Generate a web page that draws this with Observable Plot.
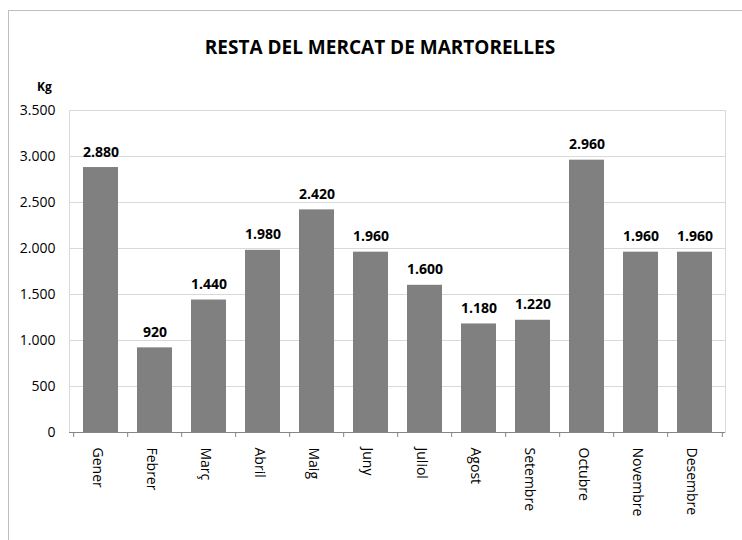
<!DOCTYPE html>
<html>
<head>
<meta charset="utf-8">
<script src="https://cdn.jsdelivr.net/npm/d3@7"></script>
<script src="https://cdn.jsdelivr.net/npm/@observablehq/plot@0.6"></script>
<style>
  html, body { margin: 0; padding: 0; background: #fff; }
  #wrap { position: relative; width: 742px; height: 540px; overflow: hidden; font-family: "Open Sans", sans-serif; }
  #border { position: absolute; left: 8px; top: 10px; width: 800px; height: 600px; border-left: 1px solid #bfbfbf; border-top: 1px solid #bfbfbf; }
  #title { position: absolute; left: 0; width: 760px; top: 34px; text-align: center; font-weight: bold; font-size: 19px; color: #000; }
  #unit { position: absolute; left: 37px; top: 78px; font-weight: bold; font-size: 12px; color: #000; }
  #chart { position: absolute; left: 0; top: 0; }
</style>
</head>
<body>
<div id="wrap">
  <div id="border"></div>
  <div id="chart"></div>
  <div id="title">RESTA DEL MERCAT DE MARTORELLES</div>
  <div id="unit">Kg</div>
</div>
<script>
const months = ["Gener","Febrer","Març","Abril","Maig","Juny","Juliol","Agost","Setembre","Octubre","Novembre","Desembre"];
const values = [2880, 920, 1440, 1980, 2420, 1960, 1600, 1180, 1220, 2960, 1960, 1960];
const yTicks = [0, 500, 1000, 1500, 2000, 2500, 3000, 3500];

const data = months.map((m, i) => ({month: m, value: values[i]}));
const fmt = d3.formatLocale({decimal: ",", thousands: ".", grouping: [3]}).format(",d");

const W = 742, H = 540;
const mL = 69, mR = 17, mT = 110, mB = 108;
const step = (W - mL - mR) / months.length;

const chart = Plot.plot({
  width: W,
  height: H,
  marginLeft: mL,
  marginRight: mR,
  marginTop: mT,
  marginBottom: mB,
  style: {fontFamily: "Open Sans, sans-serif", fontSize: "14px", background: "transparent", color: "#000"},
  x: {domain: months, paddingInner: 0.36, paddingOuter: 0.18, label: null},
  y: {domain: [0, 3500], label: null},
  marks: [
    Plot.gridY(yTicks, {stroke: "#d9d9d9", strokeOpacity: 1}),
    Plot.frame({stroke: "#d9d9d9"}),
    Plot.barY(data, {x: "month", y: "value", fill: "#808080"}),
    Plot.ruleY([0], {stroke: "#868686"}),
    Plot.ruleX(months, {x: d => d, y1: 0, y2: 0, dx: -step / 2, insetBottom: -5, stroke: "#868686"}),
    Plot.ruleX([months[months.length - 1]], {x: d => d, y1: 0, y2: 0, dx: step / 2, insetBottom: -5, stroke: "#868686"}),
    Plot.text(data, {x: "month", y: "value", text: d => fmt(d.value), lineAnchor: "bottom", dy: -11, fontWeight: "bold", fontSize: 14, fill: "#000"}),
    Plot.axisY(yTicks, {tickSize: 0, tickPadding: 14, tickFormat: fmt, fontSize: 14}),
    Plot.axisX({tickSize: 0, tickPadding: 15, tickRotate: 90, dx: -4, fontSize: 14})
  ]
});
document.getElementById("chart").appendChild(chart);
</script>
</body>
</html>
